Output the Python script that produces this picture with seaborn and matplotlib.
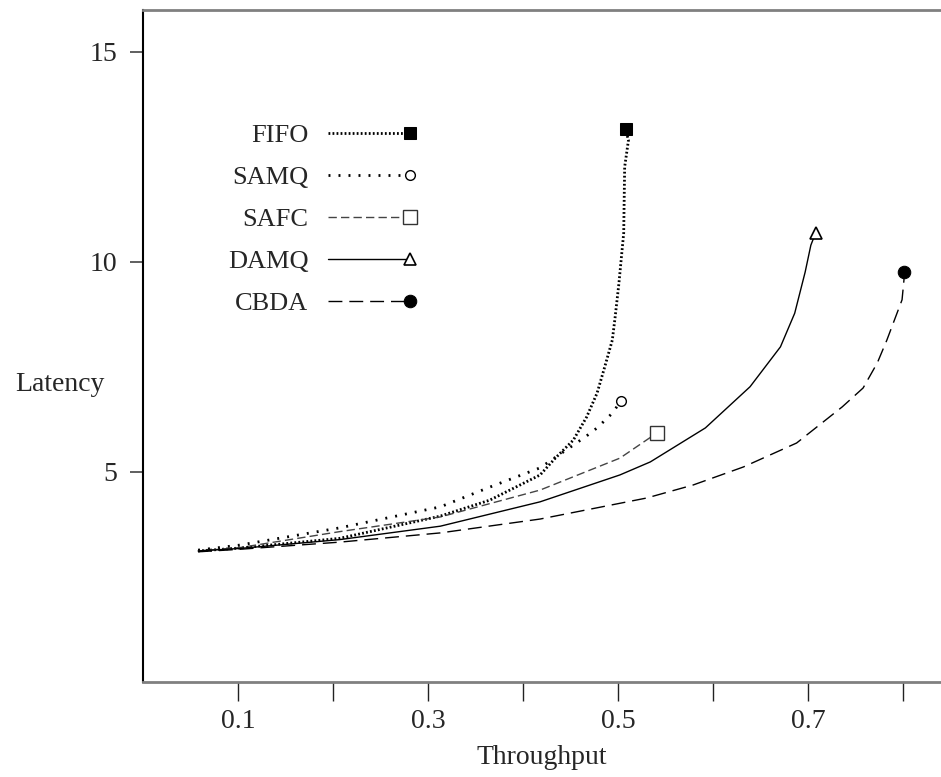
import numpy as np
import pandas as pd
import matplotlib
matplotlib.use("Agg")
import matplotlib.pyplot as plt
import seaborn as sns
from matplotlib.lines import Line2D
from matplotlib.legend_handler import HandlerLine2D

# ---- data ----
names = ["FIFO", "SAMQ", "SAFC", "DAMQ", "CBDA"]

fifo_x = [0.058, 0.102, 0.207, 0.313, 0.365, 0.418, 0.434, 0.453, 0.467, 0.478, 0.486,
          0.494, 0.497, 0.501, 0.506, 0.507, 0.511, 0.508]
fifo_y = [3.12, 3.19, 3.42, 3.95, 4.33, 4.93, 5.33, 5.76, 6.31, 6.88, 7.5,
          8.14, 8.69, 9.5, 10.69, 12.26, 12.9, 13.16]

samq_x = [0.058, 0.102, 0.207, 0.313, 0.365, 0.418, 0.453, 0.467, 0.478, 0.494, 0.503]
samq_y = [3.14, 3.26, 3.67, 4.17, 4.64, 5.1, 5.64, 5.86, 6.05, 6.4, 6.69]

safc_x = [0.058, 0.102, 0.207, 0.313, 0.418, 0.502, 0.541]
safc_y = [3.12, 3.2, 3.58, 3.93, 4.57, 5.33, 5.93]

damq_x = [0.058, 0.102, 0.207, 0.313, 0.418, 0.502, 0.534, 0.592, 0.639, 0.671,
          0.686, 0.697, 0.703, 0.708]
damq_y = [3.12, 3.18, 3.39, 3.71, 4.29, 4.93, 5.24, 6.05, 7.03, 7.98,
          8.78, 9.76, 10.4, 10.69]

cbda_x = [0.058, 0.102, 0.207, 0.313, 0.418, 0.53, 0.579, 0.632, 0.688, 0.736,
          0.758, 0.773, 0.783, 0.799, 0.801, 0.801]
cbda_y = [3.1, 3.16, 3.33, 3.55, 3.88, 4.38, 4.69, 5.12, 5.69, 6.55,
          7.0, 7.6, 8.14, 9.1, 9.57, 9.76]

x_ticks = [0.1, 0.2, 0.3, 0.4, 0.5, 0.6, 0.7, 0.8]
x_tick_labels = ["0.1", "", "0.3", "", "0.5", "", "0.7", ""]
y_ticks = [5, 10, 15]
y_tick_labels = ["5", "10", "15"]

# ---- style ----
sns.set_style("ticks")
plt.rcParams["font.family"] = ["Liberation Serif", "DejaVu Serif"]
plt.rcParams["lines.scale_dashes"] = False

fig = plt.figure(figsize=(9.41, 7.77), dpi=100)
ax = fig.add_axes([143 / 941, 1 - 682 / 777, 798 / 941, 672 / 777])

styles = [
    dict(color="black", linewidth=2.0, linestyle=(0, (1.3, 1.6)),
         marker="s", markersize=8.5, markerfacecolor="black", markeredgecolor="black"),
    dict(color="black", linewidth=2.0, linestyle=(0, (1.4, 5.8)),
         marker="o", markersize=7, markerfacecolor="white", markeredgecolor="black",
         markeredgewidth=1.0),
    dict(color="#444444", linewidth=1.0, linestyle=(0, (6, 3)),
         marker="s", markersize=10, markerfacecolor="white", markeredgecolor="#333333",
         markeredgewidth=1.0),
    dict(color="black", linewidth=1.0, linestyle="-",
         marker="^", markersize=9, markerfacecolor="white", markeredgecolor="black",
         markeredgewidth=1.2),
    dict(color="black", linewidth=1.0, linestyle=(0, (10, 5)),
         marker="o", markersize=9, markerfacecolor="black", markeredgecolor="black"),
]
series = [(fifo_x, fifo_y), (samq_x, samq_y), (safc_x, safc_y),
          (damq_x, damq_y), (cbda_x, cbda_y)]

for name, (xs, ys), st in zip(names, series, styles):
    df = pd.DataFrame({"Throughput": xs, "Latency": ys})
    sns.lineplot(data=df, x="Throughput", y="Latency", sort=False, estimator=None,
                 ax=ax, markevery=[len(xs) - 1], **st)


class EndMarkerHandler(HandlerLine2D):
    def create_artists(self, legend, orig_handle, xdescent, ydescent, width,
                       height, fontsize, trans):
        xdata = [-xdescent, width - xdescent]
        yc = height / 2 - ydescent
        line = Line2D(xdata, [yc, yc])
        self.update_prop(line, orig_handle, legend)
        line.set_marker("None")
        line.set_markevery(None)
        mk = Line2D([xdata[-1]], [yc])
        self.update_prop(mk, orig_handle, legend)
        mk.set_linestyle("None")
        mk.set_markevery(None)
        line.set_transform(trans)
        mk.set_transform(trans)
        return [line, mk]


handles = list(ax.lines[:5])
leg = ax.legend(handles=handles, labels=names, loc="upper right",
                bbox_to_anchor=(410 / 941, 1 - 124 / 777), bbox_transform=fig.transFigure,
                frameon=False, markerfirst=False, fontsize=19, handlelength=3.1,
                handletextpad=0.75, labelspacing=0.7, borderpad=0, borderaxespad=0,
                handler_map={Line2D: EndMarkerHandler()})

ax.set_xlim(0, 0.84)
ax.set_ylim(0, 16)
ax.set_xticks(x_ticks)
ax.set_xticklabels(x_tick_labels)
ax.set_yticks(y_ticks)
ax.set_yticklabels(y_tick_labels)

ax.spines["right"].set_visible(False)
ax.spines["top"].set_color("#808080")
ax.spines["top"].set_linewidth(2)
ax.spines["bottom"].set_color("#808080")
ax.spines["bottom"].set_linewidth(2)
ax.spines["left"].set_color("black")
ax.spines["left"].set_linewidth(1.5)

ax.tick_params(axis="x", direction="out", length=13.7, width=1.0, color="#222222",
               pad=6, labelsize=20, bottom=True, top=False)
ax.tick_params(axis="y", direction="out", length=9.4, width=1.2, color="#444444",
               pad=9, labelsize=20, left=True, right=False)

ax.set_xlabel("Throughput", fontsize=20, labelpad=8)
ax.set_ylabel("Latency", fontsize=20, rotation=0, ha="center", va="center")
ax.yaxis.set_label_coords(-0.104, 0.442)

fig.savefig("out.png", dpi=100)
